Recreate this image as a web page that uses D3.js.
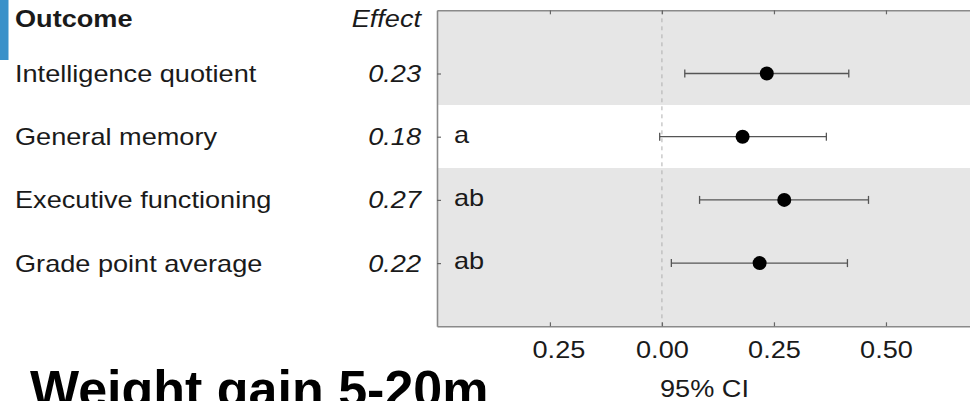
<!DOCTYPE html>
<html><head><meta charset="utf-8">
<script src="https://cdn.jsdelivr.net/npm/d3@7"></script>
<style>
body{margin:0;background:#fff;overflow:hidden}
text{font-family:"Liberation Sans",Arial,Helvetica,sans-serif}
</style>
</head><body>
<svg id="c" width="970" height="401"></svg>
<script>
// ---- data ----
const outcomes = ["Intelligence quotient", "General memory", "Executive functioning", "Grade point average"];
const effects = ["0.23", "0.18", "0.27", "0.22"];
const estimates = [0.234, 0.180, 0.273, 0.218];
const ciLow = [0.051, -0.005, 0.084, 0.021];
const ciHigh = [0.417, 0.367, 0.461, 0.414];
const groupLetters = ["", "a", "ab", "ab"];
const bandShaded = [true, false, true, true];
const tickValues = [-0.25, 0, 0.25, 0.5];
const tickLabels = ["0.25", "0.00", "0.25", "0.50"];
const xTitle = "95% CI";
const headerOutcome = "Outcome";
const headerEffect = "Effect";
const slideTitle = "Weight gain 5-20m";

// ---- layout ----
const svg = d3.select("#c");
const SX = 1.18, FS = 23;
const panelL = 437, panelR = 972, panelT = 10.3, panelB = 326.3;
const x = d3.scaleLinear().domain([-0.502, 0.692]).range([panelL, panelR]);
const y = d3.scaleLinear().domain([0, 5]).range([panelT, panelB]);
const rows = outcomes.map((d, i) => i + 1);

function stretchedText(g, tx, ty, str, anchor, weight, style) {
  return g.append("text")
    .attr("transform", `translate(${tx},${ty}) scale(${SX},1)`)
    .attr("text-anchor", anchor)
    .attr("font-size", FS)
    .attr("font-weight", weight || "normal")
    .attr("font-style", style || "normal")
    .attr("fill", "#1a1a1a")
    .text(str);
}

// blue accent
svg.append("rect").attr("x", 0).attr("y", 0).attr("width", 8.5).attr("height", 60).attr("fill", "#3a91c9");

// panel background then bands (unshaded bands drawn white over the grey)
svg.append("rect").attr("x", panelL).attr("y", panelT).attr("width", panelR - panelL)
  .attr("height", panelB - panelT).attr("fill", "#e6e6e6");
const bands = svg.append("g").attr("shape-rendering", "crispEdges");
rows.forEach((r, i) => {
  const y0 = i === 0 ? 0 : r - 0.5;
  const y1 = i === rows.length - 1 ? 5 : r + 0.5;
  bands.append("rect")
    .attr("x", panelL).attr("width", panelR - panelL)
    .attr("y", Math.round(y(y0))).attr("height", Math.round(y(y1)) - Math.round(y(y0)))
    .attr("fill", bandShaded[i] ? "#e6e6e6" : "#ffffff");
});

// zero reference
svg.append("line")
  .attr("x1", x(0)).attr("x2", x(0)).attr("y1", panelT).attr("y2", panelB)
  .attr("stroke", "#b0b0b0").attr("stroke-width", 1).attr("stroke-dasharray", "4,4");

// error bars
const eb = svg.append("g").attr("stroke", "#555").attr("stroke-width", 1.3);
rows.forEach((r, i) => {
  eb.append("line").attr("x1", x(ciLow[i])).attr("x2", x(ciHigh[i])).attr("y1", y(r)).attr("y2", y(r));
  [ciLow[i], ciHigh[i]].forEach(v => {
    eb.append("line").attr("x1", x(v)).attr("x2", x(v)).attr("y1", y(r) - 4).attr("y2", y(r) + 4);
  });
});
svg.append("g").selectAll("circle").data(rows).join("circle")
  .attr("cx", (r, i) => x(estimates[i])).attr("cy", r => y(r)).attr("r", 7).attr("fill", "#000");

// axes / border
const axisColor = "#8a8a8a";
function styleAxis(g) {
  g.select(".domain").attr("stroke", axisColor).attr("stroke-width", 1.6);
  g.selectAll(".tick line").attr("stroke", "#666").attr("stroke-width", 1.2);
}
svg.append("g").attr("transform", `translate(0,${panelB})`)
  .call(d3.axisBottom(x).tickValues(tickValues).tickSize(-4).tickSizeOuter(0).tickPadding(15.5)
    .tickFormat((d, i) => tickLabels[i]))
  .call(styleAxis)
  .call(g => g.selectAll(".tick text")
    .attr("font-size", FS).attr("font-family", "Liberation Sans, Arial, sans-serif").attr("fill", "#1a1a1a")
    .attr("transform", (d, i) => `translate(${i === 0 ? 8.5 : 0},0) scale(${SX},1)`));
svg.append("g").attr("transform", `translate(0,${panelT})`)
  .call(d3.axisTop(x).tickValues(tickValues).tickSize(-4).tickSizeOuter(0).tickFormat(""))
  .call(styleAxis);
svg.append("g").attr("transform", `translate(${panelL},0)`)
  .call(d3.axisLeft(y).tickValues(rows).tickSize(-4).tickSizeOuter(0).tickFormat(""))
  .call(styleAxis);

// group letters
const lg = svg.append("g");
rows.forEach((r, i) => {
  if (groupLetters[i]) stretchedText(lg, 454, y(r) + 6, groupLetters[i], "start");
});

// left table
const tg = svg.append("g");
stretchedText(tg, 15, 26.5, headerOutcome, "start", "bold");
stretchedText(tg, 421, 26.5, headerEffect, "end", "normal", "italic");
rows.forEach((r, i) => {
  stretchedText(tg, 15, y(r) + 8.5, outcomes[i], "start");
  stretchedText(tg, 421, y(r) + 8.5, effects[i], "end", "normal", "italic");
});

// x title
stretchedText(svg, (panelL + panelR) / 2, 397, xTitle, "middle");

// slide title (cut off by the bottom edge, as in the reference)
svg.append("text").attr("x", 30).attr("y", 407).attr("font-size", 52).attr("font-weight", "bold")
  .attr("fill", "#000").text(slideTitle);
</script>
</body></html>
